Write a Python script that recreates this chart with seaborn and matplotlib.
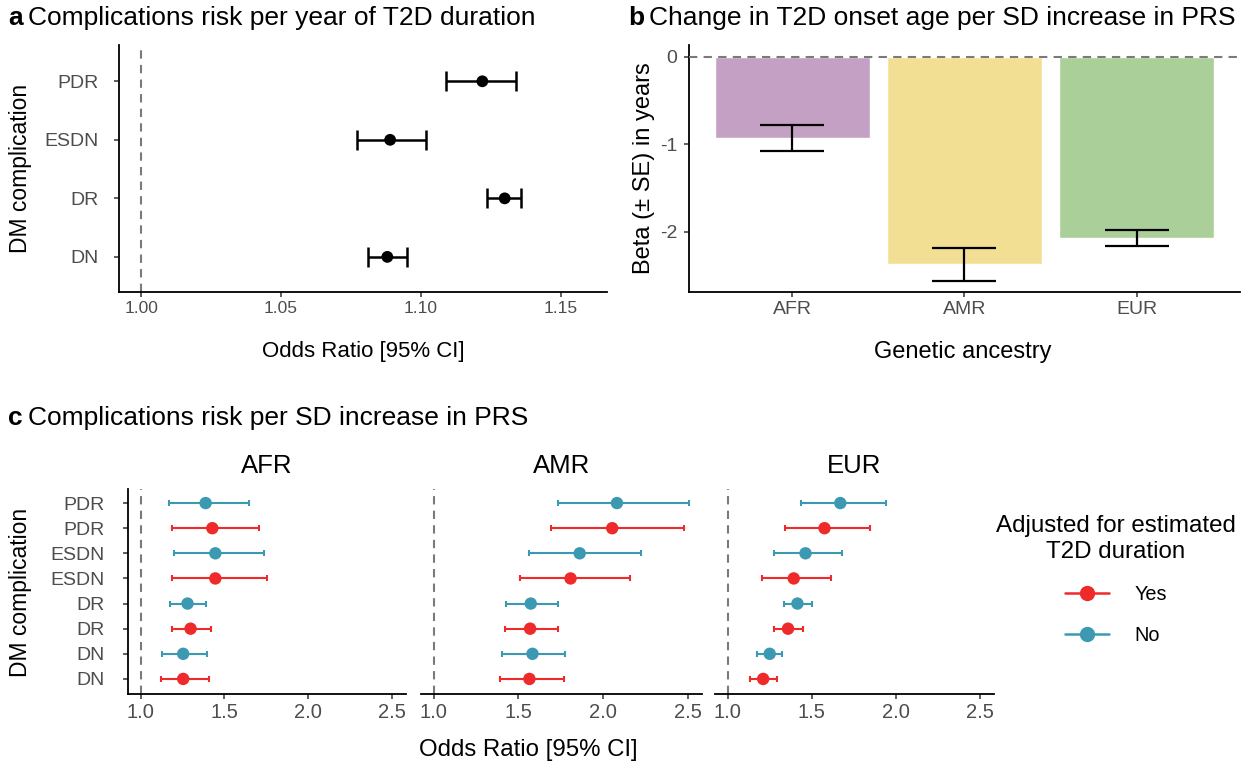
import numpy as np
import pandas as pd
import matplotlib
matplotlib.use("Agg")
import matplotlib.pyplot as plt
from matplotlib.lines import Line2D
import seaborn as sns

# ---------------- data ----------------
# a: odds ratio per year of T2D duration
dur_comp = ["DN", "DR", "ESDN", "PDR"]
dur_or = [1.088, 1.130, 1.089, 1.122]
dur_lo = [1.081, 1.1235, 1.077, 1.109]
dur_hi = [1.095, 1.136, 1.102, 1.134]

# b: change in onset age per SD of PRS
ancestry = ["AFR", "AMR", "EUR"]
beta = [-0.925, -2.37, -2.07]
beta_se = [0.147, 0.187, 0.095]

# c: odds ratio per SD of PRS, rows listed bottom to top
prs_comp = ["DN", "DN", "DR", "DR", "ESDN", "ESDN", "PDR", "PDR"]
prs_adj = ["Yes", "No", "Yes", "No", "Yes", "No", "Yes", "No"]
afr_or = [1.254, 1.254, 1.298, 1.280, 1.446, 1.446, 1.428, 1.388]
afr_lo = [1.122, 1.128, 1.186, 1.174, 1.186, 1.198, 1.190, 1.170]
afr_hi = [1.406, 1.398, 1.420, 1.388, 1.752, 1.738, 1.708, 1.650]
amr_or = [1.565, 1.583, 1.569, 1.573, 1.808, 1.862, 2.054, 2.082]
amr_lo = [1.391, 1.403, 1.419, 1.429, 1.511, 1.565, 1.695, 1.731]
amr_hi = [1.768, 1.778, 1.735, 1.731, 2.162, 2.226, 2.477, 2.509]
eur_or = [1.211, 1.250, 1.359, 1.415, 1.393, 1.463, 1.576, 1.670]
eur_lo = [1.133, 1.176, 1.278, 1.337, 1.204, 1.276, 1.343, 1.439]
eur_hi = [1.293, 1.326, 1.450, 1.500, 1.613, 1.678, 1.848, 1.939]

# ---------------- style ----------------
sns.set_theme(style="ticks")
plt.rcParams["font.family"] = ["Liberation Sans", "DejaVu Sans"]
plt.rcParams["text.color"] = "black"
plt.rcParams["axes.labelcolor"] = "black"
plt.rcParams["axes.edgecolor"] = "black"
plt.rcParams["axes.linewidth"] = 1.3
plt.rcParams["xtick.major.width"] = 1.1
plt.rcParams["ytick.major.width"] = 1.1
plt.rcParams["xtick.major.size"] = 3.5
plt.rcParams["ytick.major.size"] = 3.5
plt.rcParams["xtick.color"] = "#333333"
plt.rcParams["ytick.color"] = "#333333"

TICK_COL = "#4D4D4D"
TITLE_FS = 19
RED = "#EE2A2B"
TEAL = "#3B9AB2"
VLINE = "#7A7A7A"
DASH = (0, (4, 3))
BAR_COLS = {"AFR": "#C4A1C4", "AMR": "#F2DF94", "EUR": "#ABCF98"}

W, H = 1260, 769
fig = plt.figure(figsize=(W / 100, H / 100), dpi=100)


def box(l, t, r, b):
    return [l / W, 1 - b / H, (r - l) / W, (b - t) / H]


def px_text(x, y, s, size, **kw):
    return fig.text(x / W, 1 - y / H, s, fontsize=size, ha="center", va="center",
                    color="black", **kw)


def classic(ax, xsize, ysize, ypad=3):
    sns.despine(ax=ax)
    ax.grid(False)
    ax.set_xlabel("")
    ax.set_ylabel("")
    ax.tick_params(axis="x", labelsize=xsize, labelcolor=TICK_COL, pad=3)
    ax.tick_params(axis="y", labelsize=ysize, labelcolor=TICK_COL, pad=ypad)


def panel_title(x, y, letter, text):
    t = fig.text(x / W, 1 - y / H, letter, fontsize=TITLE_FS, fontweight="bold",
                 va="center", ha="left", color="black")
    bb = t.get_window_extent(renderer=fig.canvas.get_renderer())
    fig.text((bb.x1 + 5) / W, 1 - y / H, text, fontsize=TITLE_FS,
             va="center", ha="left", color="black")


# ---------------- panel a ----------------
ax_a = fig.add_axes(box(119, 45, 607, 292))
df_a = pd.DataFrame({"comp": dur_comp, "or": dur_or, "lo": dur_lo, "hi": dur_hi})
ya = np.arange(len(df_a))
ax_a.axvline(1.0, color=VLINE, ls=DASH, lw=1.5, zorder=1)
ax_a.errorbar(df_a["or"], ya, xerr=[df_a["or"] - df_a["lo"], df_a["hi"] - df_a["or"]],
              fmt="none", ecolor="black", elinewidth=1.8, capsize=7, capthick=1.8, zorder=2)
sns.scatterplot(x=df_a["or"], y=ya, color="black", s=72, edgecolor="none",
                ax=ax_a, zorder=3, legend=False)
ax_a.set_yticks(ya)
ax_a.set_yticklabels(df_a["comp"])
ax_a.set_ylim(-0.6, 3.62)
ax_a.set_xlim(0.992, 1.1666)
ax_a.set_xticks([1.00, 1.05, 1.10, 1.15])
ax_a.set_xticklabels(["1.00", "1.05", "1.10", "1.15"])
classic(ax_a, 12.5, 14, ypad=11)
px_text(363, 351, "Odds Ratio [95% CI]", 16)
px_text(21, 168, "DM complication", 16.5, rotation=90)

# ---------------- panel b ----------------
ax_b = fig.add_axes(box(689, 45, 1240, 292))
df_b = pd.DataFrame({"anc": ancestry, "beta": beta, "se": beta_se})
sns.barplot(data=df_b, x="anc", y="beta", hue="anc", palette=BAR_COLS, width=0.9,
            saturation=1, errorbar=None, edgecolor="white", linewidth=1.0,
            legend=False, ax=ax_b)
ax_b.axhline(0, color=VLINE, ls=DASH, lw=1.5, zorder=3)
ax_b.errorbar(np.arange(len(df_b)), df_b["beta"], yerr=df_b["se"], fmt="none",
              ecolor="black", elinewidth=1.6, capsize=23, capthick=1.6, zorder=4)
ax_b.set_ylim(-2.686, 0.137)
ax_b.set_xlim(-0.6, 2.6)
ax_b.set_yticks([0, -1, -2])
ax_b.set_yticklabels(["0", "-1", "-2"])
classic(ax_b, 14, 14, ypad=5)
px_text(963, 352, "Genetic ancestry", 17)
px_text(644, 168, "Beta (\u00b1 SE) in years", 17, rotation=90)

# ---------------- panel c ----------------
rows = []
for anc_name, o, lo, hi in [("AFR", afr_or, afr_lo, afr_hi),
                            ("AMR", amr_or, amr_lo, amr_hi),
                            ("EUR", eur_or, eur_lo, eur_hi)]:
    for i in range(len(prs_comp)):
        rows.append({"anc": anc_name, "pos": i, "comp": prs_comp[i],
                     "adj": prs_adj[i], "or": o[i], "lo": lo[i], "hi": hi[i]})
df_c = pd.DataFrame(rows)
adj_pal = {"Yes": RED, "No": TEAL}

facet_boxes = [(128, 406), (421, 702), (715, 994)]
for k, anc_name in enumerate(ancestry):
    l, r = facet_boxes[k]
    ax = fig.add_axes(box(l, 489, r, 694))
    sub = df_c[df_c["anc"] == anc_name]
    ax.axvline(1.0, color=VLINE, ls=DASH, lw=1.5, zorder=1)
    for adj, g in sub.groupby("adj"):
        ax.errorbar(g["or"], g["pos"], xerr=[g["or"] - g["lo"], g["hi"] - g["or"]],
                    fmt="none", ecolor=adj_pal[adj], elinewidth=1.5, capsize=2.4,
                    capthick=1.5, zorder=2)
    sns.scatterplot(data=sub, x="or", y="pos", hue="adj", palette=adj_pal, s=80,
                    edgecolor="none", ax=ax, zorder=3, legend=False)
    ax.set_ylim(-0.6, 7.56)
    ax.set_xlim(0.9245, 2.5845)
    ax.set_xticks([1.0, 1.5, 2.0, 2.5])
    ax.set_xticklabels(["1.0", "1.5", "2.0", "2.5"])
    ax.set_yticks(np.arange(len(prs_comp)))
    classic(ax, 14.5, 14, ypad=13)
    if k == 0:
        ax.set_yticklabels(prs_comp)
    else:
        ax.spines["left"].set_visible(False)
        ax.tick_params(axis="y", left=False, labelleft=False)
    px_text((l + r) / 2, 466, anc_name, 18.5)

px_text(528, 750, "Odds Ratio [95% CI]", 17.3)
px_text(21, 592, "DM complication", 16.5, rotation=90)

# legend
handles = [Line2D([0], [0], color=adj_pal[a], marker="o", markersize=10, lw=1.8,
                  label=a) for a in ["Yes", "No"]]
leg = fig.legend(handles=handles, title="Adjusted for estimated\nT2D duration",
                 loc="center", bbox_to_anchor=(1116 / W, 1 - 580 / H), frameon=False,
                 fontsize=14.3, title_fontsize=17.4, handlelength=2.2,
                 labelspacing=1.1, handletextpad=1.3)
leg.get_title().set_multialignment("center")
leg.get_title().set_color("black")
for t in leg.get_texts():
    t.set_color("black")
leg._legend_box.align = "center"

# panel titles
panel_title(8, 18, "a", "Complications risk per year of T2D duration")
panel_title(628, 18, "b", "Change in T2D onset age per SD increase in PRS")
panel_title(8, 418, "c", "Complications risk per SD increase in PRS")

fig.savefig("out.png", dpi=100)
